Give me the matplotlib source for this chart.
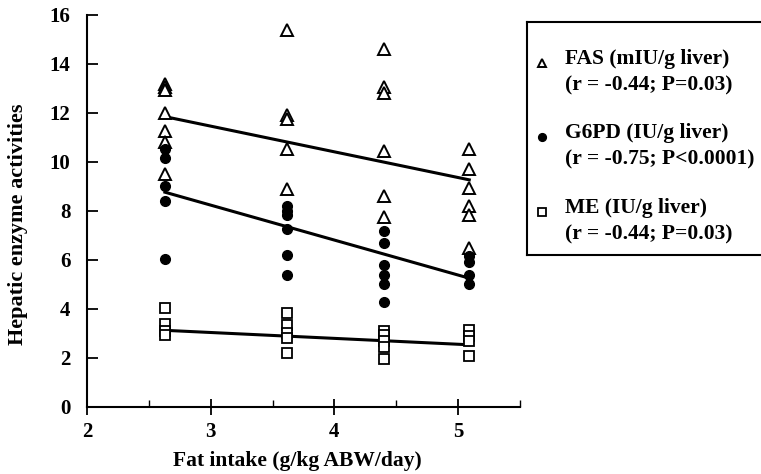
import numpy as np
import matplotlib.pyplot as plt

plt.rcParams['font.family'] = 'Liberation Serif'
plt.rcParams['font.weight'] = 'bold'

# fat intake groups (g/kg ABW/day)
x_groups = [2.63, 3.62, 4.40, 5.09]

# values read per group
fas = [[13.2, 13.05, 12.95, 12.0, 11.25, 10.8, 9.5],
       [15.4, 11.9, 11.75, 10.55, 8.9],
       [14.6, 13.05, 12.8, 10.45, 8.6, 7.75],
       [10.55, 9.7, 8.95, 8.2, 7.85, 6.5]]
g6pd = [[10.55, 10.15, 9.0, 8.4, 6.05],
        [8.2, 8.0, 7.85, 7.25, 6.2, 5.4],
        [7.2, 6.7, 5.8, 5.4, 5.0, 4.3],
        [6.15, 5.9, 5.4, 5.0]]
me = [[4.05, 3.4, 3.1, 2.95],
      [3.85, 3.35, 3.0, 2.8, 2.2],
      [3.1, 2.95, 2.7, 2.45, 1.95],
      [3.15, 2.9, 2.7, 2.1]]

# regression lines (intercept, slope) as drawn in the figure
fas_fit = (14.61, -1.049)
g6pd_fit = (12.52, -1.427)
me_fit = (3.76, -0.24)

legend_lines = [("FAS (mIU/g liver)", "(r = -0.44; P=0.03)"),
                ("G6PD (IU/g liver)", "(r = -0.75; P<0.0001)"),
                ("ME (IU/g liver)", "(r = -0.44; P=0.03)")]

fig = plt.figure(figsize=(7.61, 4.74), dpi=100)
ax = fig.add_axes([0.1143, 0.1414, 0.569, 0.827])

styles = [dict(marker='^', mfc='white', mec='black', ms=8, mew=1.4),
          dict(marker='o', mfc='black', mec='black', ms=7, mew=1),
          dict(marker='s', mfc='white', mec='black', ms=7, mew=1.3)]

for series, fit, st in zip([fas, g6pd, me], [fas_fit, g6pd_fit, me_fit], styles):
    for xg, vals in zip(x_groups, series):
        ax.plot([xg] * len(vals), vals, linestyle='none', zorder=3, **st)
    xs = np.array([x_groups[0], x_groups[-1]])
    ax.plot(xs, fit[0] + fit[1] * xs, color='black', lw=2.2, zorder=2)

ax.set_xlim(2, 5.5)
ax.set_ylim(0, 16)
ax.set_xticks([2, 3, 4, 5])
ax.set_xticks([2.5, 3.5, 4.5, 5.5], minor=True)
ax.set_yticks(range(0, 17, 2))
ax.spines['top'].set_visible(False)
ax.spines['right'].set_visible(False)
for s in ['left', 'bottom']:
    ax.spines[s].set_linewidth(1.5)
ax.tick_params(axis='y', direction='in', length=8, width=1.3, labelsize=15, pad=12)
ax.tick_params(axis='x', which='major', direction='inout', length=12, width=1.3,
               labelsize=15, pad=5)
ax.tick_params(axis='x', which='minor', direction='in', length=5, width=1.0)
ax.set_xlabel("Fat intake (g/kg ABW/day)", fontsize=15.5, fontweight='bold')
ax.set_ylabel("Hepatic enzyme activities", fontsize=16, fontweight='bold')
ax.xaxis.set_label_coords(0.485, -0.113)
ax.yaxis.set_label_coords(-0.137, 0.467)

# legend box
lax = fig.add_axes([527 / 761, (474 - 255) / 474, (770 - 527) / 761, (255 - 22) / 474])
lax.set_xlim(0, 243)
lax.set_ylim(233, 0)
lax.set_xticks([])
lax.set_yticks([])
for s in lax.spines.values():
    s.set_linewidth(1.5)
rows = [37, 111, 186]
for (l1, l2), st, y in zip(legend_lines, styles, rows):
    st2 = dict(st)
    st2['ms'] = st['ms'] * 0.8
    lax.plot([15], [y + 4], linestyle='none', **st2)
    lax.text(38, y, l1, fontsize=15.5, fontweight='bold', va='center', ha='left')
    lax.text(38, y + 26, l2, fontsize=15.5, fontweight='bold', va='center', ha='left')

fig.savefig('out.png', dpi=100)
